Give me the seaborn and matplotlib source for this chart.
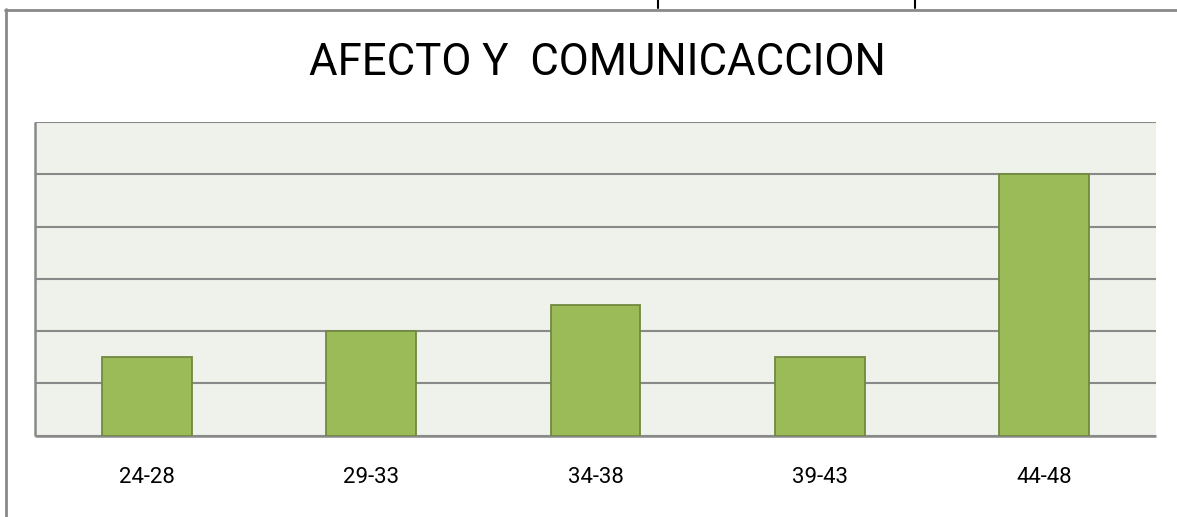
import matplotlib
matplotlib.use("Agg")
import matplotlib.pyplot as plt
from matplotlib.lines import Line2D
import seaborn as sns
import pandas as pd

categories = ["24-28", "29-33", "34-38", "39-43", "44-48"]
values = [1.5, 2.0, 2.5, 1.5, 5.0]
title = "AFECTO Y  COMUNICACCION"

sns.set_theme(style="white")
plt.rcParams['font.family'] = ['Roboto', 'DejaVu Sans']

W, H = 1177, 517
fig = plt.figure(figsize=(W / 100, H / 100), dpi=100)
fig.patch.set_facecolor("white")
ax = fig.add_axes([35 / W, 1 - 435.7 / H, (1156 - 35) / W, (435.7 - 122) / H])
ax.set_facecolor("#EFF2EA")

df = pd.DataFrame({"cat": categories, "val": values})
sns.barplot(data=df, x="cat", y="val", ax=ax, color="#9BBB59", width=0.4,
            edgecolor="#71893F", linewidth=1.3, saturation=1, zorder=3)
for p in ax.patches:
    p.set_facecolor("#9BBB59")

ax.set_ylim(0, 6)
ax.set_yticks(range(0, 7))
ax.set_yticklabels([])
ax.tick_params(axis="y", length=0)
ax.tick_params(axis="x", length=0, pad=30, labelsize=16, labelcolor="#000000")
ax.yaxis.grid(True, color="#898989", linewidth=1.5, zorder=0)
ax.set_axisbelow(True)
ax.set_xlabel("")
ax.set_ylabel("")
for s in ["top", "right"]:
    ax.spines[s].set_visible(False)
for s in ["left", "bottom"]:
    ax.spines[s].set_color("#898989")
    ax.spines[s].set_linewidth(1.8)
    ax.spines[s].set_capstyle("butt")
for lab in ax.get_xticklabels():
    lab.set_verticalalignment("center")

fig.text(597 / W, 1 - 75 / H, title, ha="center", va="baseline", fontsize=31.5, color="#000000")

# outer frame and table borders
fig.add_artist(Line2D([5.5 / W, 5.5 / W], [0, 1 - 9 / H], color="#898989", lw=2, transform=fig.transFigure))
fig.add_artist(Line2D([5 / W, 1], [1 - 9.5 / H, 1 - 9.5 / H], color="#898989", lw=2, transform=fig.transFigure))
for x in [658, 915]:
    fig.add_artist(Line2D([x / W, x / W], [1 - 8 / H, 1], color="black", lw=1.5, transform=fig.transFigure))

fig.savefig("out.png", dpi=100)
